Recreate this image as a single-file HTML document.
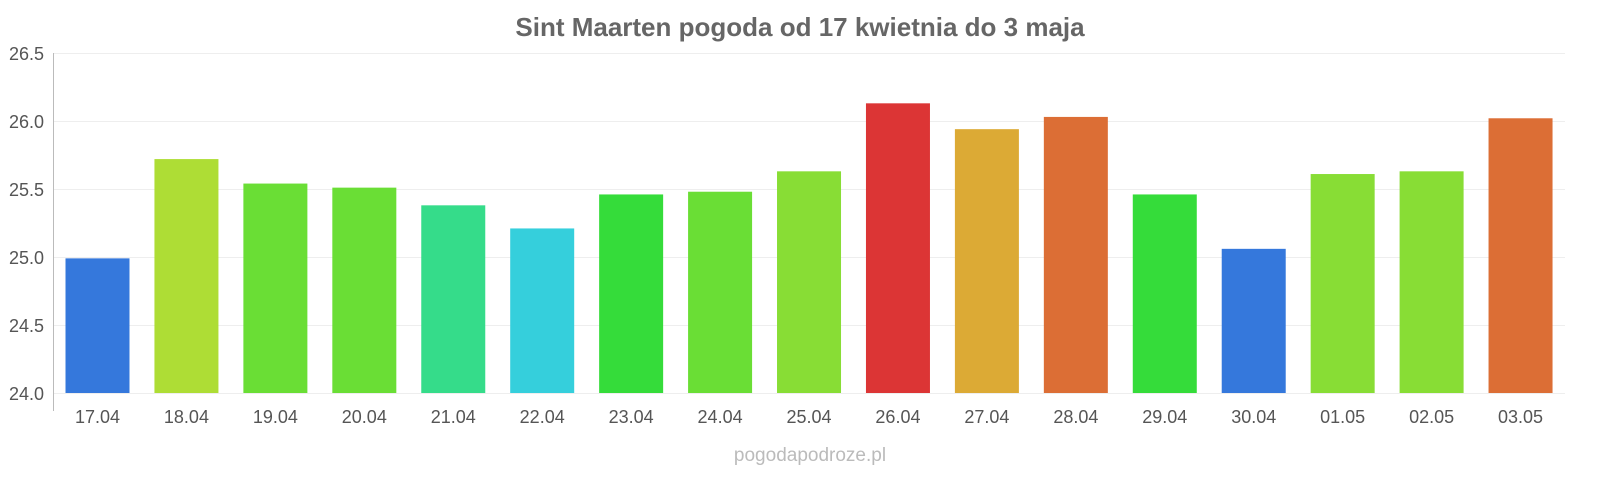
<!DOCTYPE html>
<html><head><meta charset="utf-8"><style>
body{margin:0;background:#fff;width:1600px;height:480px;overflow:hidden}
svg{font-family:"Liberation Sans",sans-serif}
</style></head><body>
<svg width="1600" height="480" xmlns="http://www.w3.org/2000/svg">
<text x="800" y="36" text-anchor="middle" font-size="26" font-weight="bold" fill="#666">Sint Maarten pogoda od 17 kwietnia do 3 maja</text>
<g stroke="#eee" stroke-width="1">
<line x1="53" x2="1565" y1="53.5" y2="53.5"/><line x1="53" x2="1565" y1="121.5" y2="121.5"/><line x1="53" x2="1565" y1="189.5" y2="189.5"/><line x1="53" x2="1565" y1="257.5" y2="257.5"/><line x1="53" x2="1565" y1="325.5" y2="325.5"/><line x1="53" x2="1565" y1="393.5" y2="393.5"/>
</g>
<line x1="53.5" x2="53.5" y1="53" y2="411" stroke="#bbb"/>
<g font-size="18" fill="#555" text-anchor="end">
<text x="44" y="60">26.5</text><text x="44" y="128">26.0</text><text x="44" y="196">25.5</text><text x="44" y="264">25.0</text><text x="44" y="332">24.5</text><text x="44" y="400">24.0</text>
</g>
<g id="bars"></g>
<g id="labels" font-size="18" fill="#555" text-anchor="middle"></g>
<text x="810" y="461" text-anchor="middle" font-size="19" fill="#bbb">pogodapodroze.pl</text>
</svg>
<script>
var v=[24.99,25.72,25.54,25.51,25.38,25.21,25.46,25.48,25.63,26.13,25.94,26.03,25.46,25.06,25.61,25.63,26.02];
var c=["#3578dc","#aedd35","#6ade35","#6ade35","#35dc8a","#35cfdc","#35dc3a","#6ade35","#88dd35","#dc3535","#dcaa35","#dc6e35","#35dc3a","#3578dc","#88dd35","#88dd35","#dc6e35"];
var l=["17.04","18.04","19.04","20.04","21.04","22.04","23.04","24.04","25.04","26.04","27.04","28.04","29.04","30.04","01.05","02.05","03.05"];
var ns="http://www.w3.org/2000/svg",b=document.getElementById("bars"),t=document.getElementById("labels");
for(var i=0;i<17;i++){var cx=97.5+i*88.94,y=393-(v[i]-24)*136;
var r=document.createElementNS(ns,"rect");r.setAttribute("x",cx-32);r.setAttribute("y",y);r.setAttribute("width",64);r.setAttribute("height",393-y);r.setAttribute("fill",c[i]);b.appendChild(r);
var s=document.createElementNS(ns,"text");s.setAttribute("x",cx);s.setAttribute("y",423);s.textContent=l[i];t.appendChild(s);}
</script>
</body></html>
